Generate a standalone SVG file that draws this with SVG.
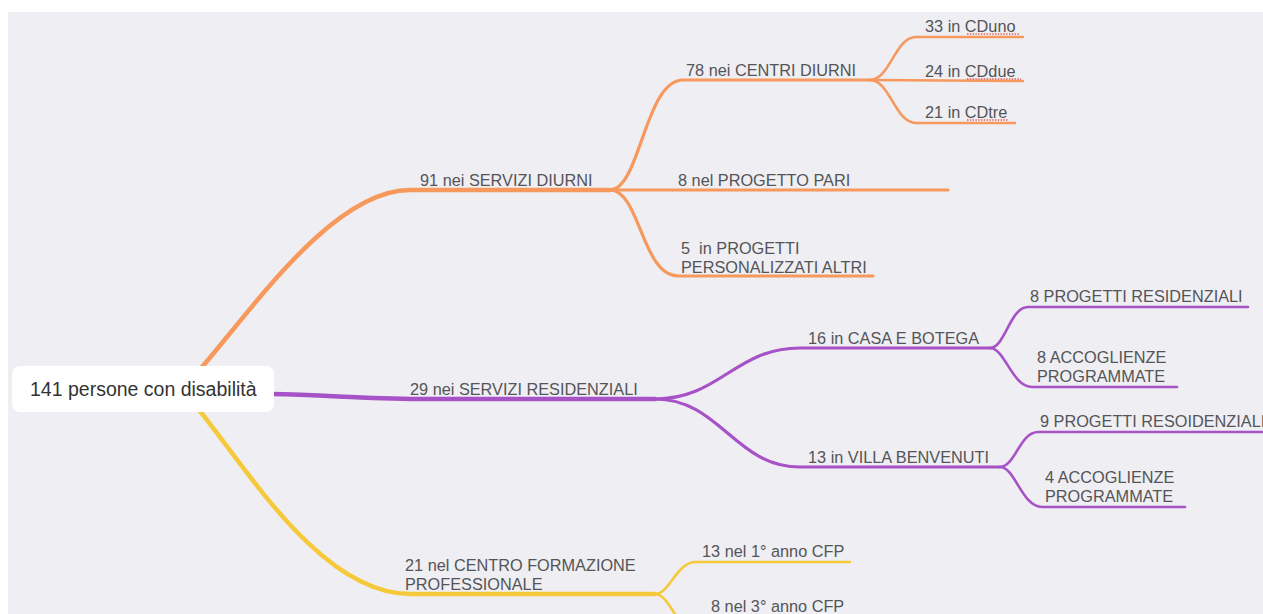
<svg xmlns="http://www.w3.org/2000/svg" width="1263" height="614" viewBox="0 0 1263 614">
<style>
.t{font-family:"Liberation Sans",Arial,Helvetica,sans-serif;font-size:16.3px;fill:#555558}
.root{font-family:"Liberation Sans",Arial,Helvetica,sans-serif;font-size:19.5px;fill:#333333}
.c{fill:none;stroke-linecap:round;stroke-linejoin:round}
.o{stroke:#F7985C}
.p{stroke:#A752C7}
.y{stroke:#F6C93B}
.w1{stroke-width:4.5}
.w2{stroke-width:3.2}
.w3{stroke-width:2.6}
.sp{stroke:#E0605A;stroke-width:1.4;stroke-dasharray:1.4 1.4;fill:none}
</style>
<rect x="0" y="0" width="1263" height="614" fill="#FFFFFF"/>
<rect x="8" y="12" width="1255" height="602" fill="#EEEEF3"/>
<g id="connectors">
  <path class="c o w1" d="M195,375 C245,320 330,190 410,190 L610,190"/>
  <path class="c p w1" d="M270,394 C330,395 360,399 420,399 L655,399"/>
  <path class="c y w1" d="M195,405 C245,465 320,594 410,594 L655,594"/>
  <path class="c o w2" d="M610,190 C640,190 645,80 683,80 L870,80"/>
  <path class="c o w2" d="M610,190 L948,190"/>
  <path class="c o w2" d="M610,190 C640,190 642,276 678,276 L873,276"/>
  <path class="c o w3" d="M870,80 C890,80 895,37 916,37 L1023,37"/>
  <path class="c o w3" d="M870,80 L1023,81"/>
  <path class="c o w3" d="M870,80 C890,80 895,123 916,123 L1015,123"/>
  <path class="c p w2" d="M655,399 C720,399 735,348 800,348 L990,348"/>
  <path class="c p w2" d="M655,399 C720,399 735,467 800,467 L1000,467"/>
  <path class="c p w3" d="M990,348 C1005,348 1010,307 1028,307 L1248,307"/>
  <path class="c p w3" d="M990,348 C1005,348 1012,387 1032,387 L1177,387"/>
  <path class="c p w3" d="M1000,467 C1015,467 1020,432 1038,432 L1266,432"/>
  <path class="c p w3" d="M1000,467 C1015,467 1022,507 1042,507 L1185,507"/>
  <path class="c y w3" d="M655,594 C670,594 676,562 696,562 L850,562"/>
  <path class="c y w3" d="M655,594 C670,594 676,630 696,630 L860,630"/>
  <path class="sp" d="M967,34 L1020,34 M967,79 L1021,79 M967,120 L1009,120"/>
</g>
<g id="root">
  <rect x="12" y="366" width="262" height="46" rx="8" fill="#FFFFFF"/>
  <text class="root" x="30" y="396">141 persone con disabilità</text>
</g>
<g id="n-diurni"><text class="t" x="420" y="186">91 nei SERVIZI DIURNI</text></g>
<g id="n-centri"><text class="t" x="686" y="76">78 nei CENTRI DIURNI</text></g>
<g id="n-cduno"><text class="t" x="925" y="32">33 in CDuno</text></g>
<g id="n-cddue"><text class="t" x="925" y="77">24 in CDdue</text></g>
<g id="n-cdtre"><text class="t" x="925" y="118">21 in CDtre</text></g>
<g id="n-pari"><text class="t" x="678" y="186">8 nel PROGETTO PARI</text></g>
<g id="n-altri"><text class="t" x="681" y="254" xml:space="preserve">5  in PROGETTI</text><text class="t" x="681" y="273">PERSONALIZZATI ALTRI</text></g>
<g id="n-resid"><text class="t" x="410" y="395">29 nei SERVIZI RESIDENZIALI</text></g>
<g id="n-casa"><text class="t" x="808" y="344">16 in CASA E BOTEGA</text></g>
<g id="n-casa-pr"><text class="t" x="1030" y="302">8 PROGETTI RESIDENZIALI</text></g>
<g id="n-casa-acc"><text class="t" x="1037" y="363">8 ACCOGLIENZE</text><text class="t" x="1037" y="382">PROGRAMMATE</text></g>
<g id="n-villa"><text class="t" x="808" y="463">13 in VILLA BENVENUTI</text></g>
<g id="n-villa-pr"><text class="t" x="1040" y="427">9 PROGETTI RESOIDENZIALI</text></g>
<g id="n-villa-acc"><text class="t" x="1045" y="483">4 ACCOGLIENZE</text><text class="t" x="1045" y="502">PROGRAMMATE</text></g>
<g id="n-cfp"><text class="t" x="405" y="571">21 nel CENTRO FORMAZIONE</text><text class="t" x="405" y="590">PROFESSIONALE</text></g>
<g id="n-cfp1"><text class="t" x="702" y="557">13 nel 1° anno CFP</text></g>
<g id="n-cfp3"><text class="t" x="711" y="612">8 nel 3° anno CFP</text></g>
</svg>
